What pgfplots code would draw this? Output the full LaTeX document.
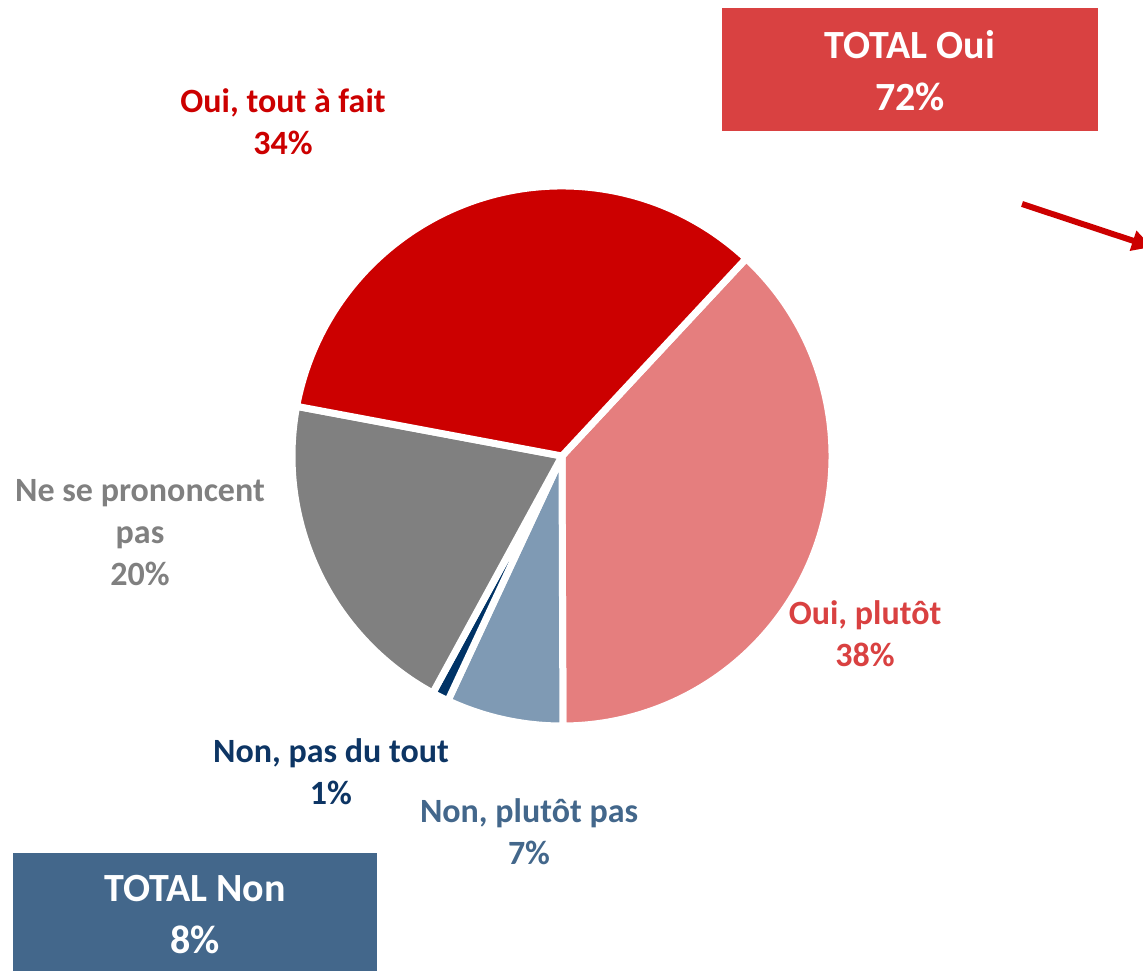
\documentclass[border=0pt]{standalone}
\usepackage{pgfplots}
\pgfplotsset{compat=1.18}
\usepackage{pgfplotstable}
\usepackage{fontspec}
\setmainfont{Carlito}
\usetikzlibrary{arrows.meta}

\definecolor{cTout}{HTML}{CC0000}
\definecolor{cPlutot}{HTML}{E57E7E}
\definecolor{cNonPlutot}{HTML}{7F9AB4}
\definecolor{cNonTout}{HTML}{003366}
\definecolor{cNSP}{HTML}{808080}
\definecolor{boxOui}{HTML}{D94141}
\definecolor{boxNon}{HTML}{43678B}
\definecolor{lNavy}{HTML}{0D3564}

% share of answers, clockwise from the top right
\pgfplotstableread{
value colour
38 cPlutot
7  cNonPlutot
1  cNonTout
20 cNSP
34 cTout
}\piedata

\tikzset{
    lbl/.style={align=center, font=\fontsize{17}{21}\selectfont\bfseries},
    bigtxt/.style={align=center, text=white, font=\fontsize{20}{26}\selectfont\bfseries},
}

\begin{document}
\begin{tikzpicture}
\begin{axis}[
    hide axis,
    scale only axis,
    width=571.5pt, height=485.5pt,
    xmin=0, xmax=1143,
    ymin=0, ymax=971,
    clip=false,
]
\pgfplotstablegetrowsof{\piedata}
\pgfmathtruncatemacro\nrows{\pgfplotsretval-1}
\def\angstart{47}
\pgfplotsforeachungrouped \i in {0,...,\nrows}{
    \pgfplotstablegetelem{\i}{value}\of\piedata \let\val\pgfplotsretval
    \pgfplotstablegetelem{\i}{colour}\of\piedata \let\col\pgfplotsretval
    \pgfmathsetmacro\angend{\angstart-3.6*\val}
    \edef\temp{\noexpand\filldraw[fill=\col, draw=white, line width=3.5pt, line join=miter]
        (axis cs:562,515) -- ++(\angstart:135pt)
        arc[start angle=\angstart, end angle=\angend, radius=135pt] -- cycle;}
    \temp
    \let\angstart\angend
}

\node[lbl, text=cTout] at (axis cs:283,849) {Oui, tout à fait\\34\%};
\node[lbl, text=boxOui] at (axis cs:865,337.5) {Oui, plutôt\\38\%};
\node[lbl, text=cNSP] at (axis cs:140,438) {Ne se prononcent\\pas\\20\%};
\node[lbl, text=lNavy] at (axis cs:331,199.5) {Non, pas du tout\\1\%};
\node[lbl, text=boxNon] at (axis cs:529,139) {Non, plutôt pas\\7\%};

\fill[boxOui] (axis cs:722,840) rectangle (axis cs:1098,963);
\node[bigtxt] at (axis cs:910,900) {TOTAL Oui\\72\%};
\fill[boxNon] (axis cs:13,0) rectangle (axis cs:377,118);
\node[bigtxt] at (axis cs:195,56.5) {TOTAL Non\\8\%};

\draw[cTout, line width=3pt, -{Triangle[length=10pt, width=10pt]}]
    (axis cs:1022,767) -- (axis cs:1152,724);
\end{axis}
\pgfresetboundingbox
\path[use as bounding box] (current axis.south west) rectangle (current axis.north east);
\end{tikzpicture}
\end{document}
